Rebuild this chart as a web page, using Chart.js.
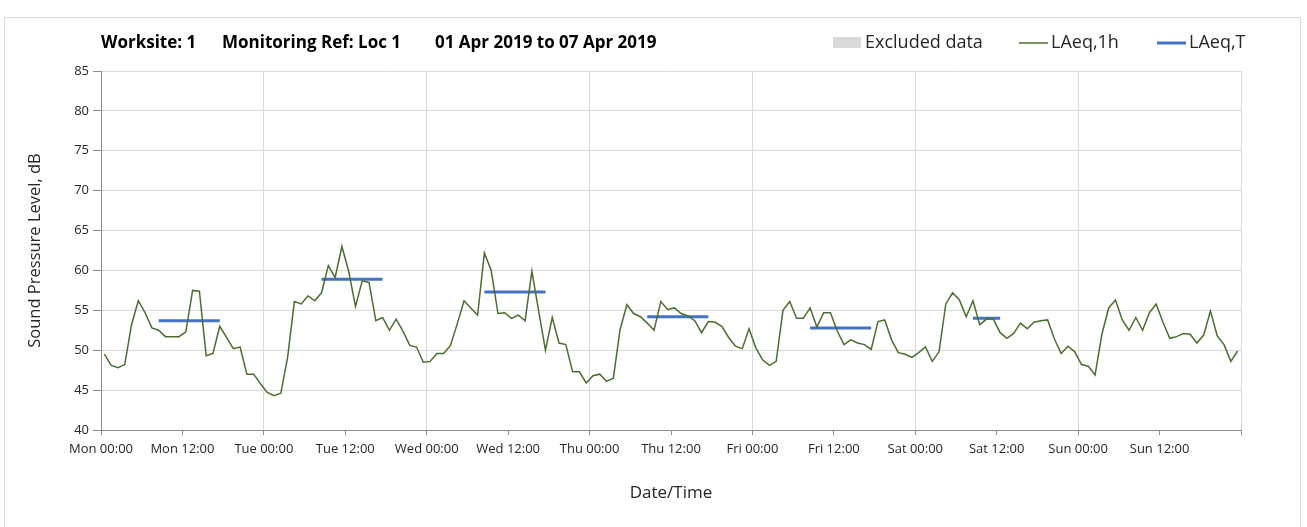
<!DOCTYPE html>
<html>
<head>
<meta charset="utf-8">
<title>LAeq monitoring</title>
<script src="https://cdn.jsdelivr.net/npm/chart.js@4/dist/chart.umd.min.js"></script>
<style>
  html, body { margin: 0; padding: 0; background: #fff; }
  #wrap { position: relative; width: 1307px; height: 527px; overflow: hidden; }
  #frame { position: absolute; left: 4px; top: 17px; width: 1297px; height: 530px; border: 1px solid #d9d9d9; box-sizing: border-box; }
  #chart { position: absolute; left: 0; top: 0; }
</style>
</head>
<body>
<div id="wrap">
  <div id="frame"></div>
  <canvas id="chart" width="1307" height="527"></canvas>
</div>
<script>
const hourlyColour = "#4b6e2e";
const periodColour = "#4472c4";
const excludedColour = "#d9d9d9";
const gridColour = "#d9d9d9";
const axisColour = "#8c8c8c";
const textColour = "#262626";
const fontFamily = "'Open Sans', 'DejaVu Sans', sans-serif";

const dayNames = ["Mon", "Tue", "Wed", "Thu", "Fri", "Sat", "Sun"];
const yTicks = [40, 45, 50, 55, 60, 65, 70, 75, 80, 85];

// LAeq,1h, one value per hour from Mon 00:00 to Sun 23:00
const hourlyLevels = [
  49.5, 48.1, 47.8, 48.2, 53.2, 56.2, 54.7, 52.8, 52.5, 51.7, 51.7, 51.7,
  52.3, 57.5, 57.4, 49.3, 49.6, 53.0, 51.6, 50.2, 50.4, 47.0, 47.0, 45.8,
  44.7, 44.3, 44.6, 49.1, 56.1, 55.8, 56.8, 56.2, 57.2, 60.6, 59.1, 63.0,
  59.9, 55.5, 58.7, 58.5, 53.7, 54.1, 52.5, 53.9, 52.4, 50.6, 50.4, 48.5,
  48.6, 49.6, 49.6, 50.6, 53.3, 56.2, 55.3, 54.4, 62.2, 60.0, 54.6, 54.7,
  54.0, 54.4, 53.7, 59.9, 54.9, 50.0, 54.1, 50.9, 50.7, 47.3, 47.3, 45.9,
  46.8, 47.0, 46.1, 46.5, 52.6, 55.7, 54.6, 54.2, 53.4, 52.5, 56.1, 55.1,
  55.3, 54.6, 54.3, 53.7, 52.2, 53.6, 53.5, 53.0, 51.6, 50.5, 50.2, 52.7,
  50.3, 48.8, 48.1, 48.6, 55.0, 56.1, 54.0, 54.0, 55.3, 52.9, 54.7, 54.7,
  52.4, 50.7, 51.3, 50.9, 50.7, 50.1, 53.6, 53.8, 51.3, 49.7, 49.5, 49.1,
  49.7, 50.4, 48.6, 49.8, 55.8, 57.2, 56.3, 54.2, 56.2, 53.2, 53.9, 53.9,
  52.2, 51.5, 52.1, 53.4, 52.7, 53.5, 53.7, 53.8, 51.4, 49.6, 50.5, 49.8,
  48.2, 48.0, 46.9, 52.0, 55.3, 56.3, 53.8, 52.5, 54.1, 52.5, 54.7, 55.8,
  53.5, 51.5, 51.7, 52.1, 52.0, 50.9, 51.9, 54.9, 51.8, 50.7, 48.6, 49.9
];

// LAeq,T per monitoring period (day index, first hour, last hour, level)
const periodDays = [0, 1, 2, 3, 4, 5];
const periodFirstHours = [8, 8, 8, 8, 8, 8];
const periodLastHours = [17, 17, 17, 17, 17, 12];
const periodLevels = [53.7, 58.9, 57.3, 54.2, 52.8, 54.0];

const hourlyPoints = hourlyLevels.map((level, hour) => ({ x: hour + 0.5, y: level }));

const periodPoints = [];
periodDays.forEach((day, i) => {
  periodPoints.push({ x: day * 24 + periodFirstHours[i] + 0.5, y: periodLevels[i] });
  periodPoints.push({ x: day * 24 + periodLastHours[i] + 0.5, y: periodLevels[i] });
  periodPoints.push({ x: day * 24 + periodLastHours[i] + 1, y: null });
});

const headerText = [
  { text: "Worksite: 1", x: 101 },
  { text: "Monitoring Ref: Loc 1", x: 222 },
  { text: "01 Apr 2019 to 07 Apr 2019", x: 435 },
];

const legendItems = [
  { text: "Excluded data", swatch: "box", colour: excludedColour, x: 833 },
  { text: "LAeq,1h", swatch: "line", colour: hourlyColour, width: 1.5, x: 1019 },
  { text: "LAeq,T", swatch: "line", colour: periodColour, width: 3, x: 1157 },
];

// header line and legend sit on the same row above the plot
const headerPlugin = {
  id: "header",
  afterDraw: (chart) => {
    const ctx = chart.ctx;
    const rowY = 43;
    ctx.save();
    ctx.textBaseline = "middle";
    ctx.fillStyle = "#000";
    ctx.font = "bold 17px " + fontFamily;
    headerText.forEach((part) => ctx.fillText(part.text, part.x, rowY));

    ctx.font = "18px " + fontFamily;
    legendItems.forEach((item) => {
      if (item.swatch === "box") {
        ctx.fillStyle = item.colour;
        ctx.fillRect(item.x, rowY - 6, 28, 11);
      } else {
        ctx.strokeStyle = item.colour;
        ctx.lineWidth = item.width;
        ctx.beginPath();
        ctx.moveTo(item.x, rowY);
        ctx.lineTo(item.x + 29, rowY);
        ctx.stroke();
      }
      ctx.fillStyle = textColour;
      ctx.fillText(item.text, item.x + 32, rowY);
    });
    ctx.restore();
  },
};

const xLabel = (value) => {
  if (value >= 168) return "";
  const day = dayNames[Math.floor(value / 24)];
  return day + (value % 24 === 0 ? " 00:00" : " 12:00");
};

new Chart(document.getElementById("chart"), {
  type: "line",
  data: {
    datasets: [
      {
        label: "LAeq,1h",
        data: hourlyPoints,
        borderColor: hourlyColour,
        backgroundColor: hourlyColour,
        borderWidth: 1.5,
        pointRadius: 0,
        tension: 0,
      },
      {
        label: "LAeq,T",
        data: periodPoints,
        borderColor: periodColour,
        backgroundColor: periodColour,
        borderWidth: 3,
        pointRadius: 0,
        spanGaps: false,
      },
      {
        label: "Excluded data",
        data: [],
        backgroundColor: excludedColour,
        borderColor: excludedColour,
      },
    ],
  },
  options: {
    responsive: false,
    animation: false,
    layout: { padding: { top: 71, right: 66, bottom: 0, left: 0 } },
    plugins: {
      tooltip: { enabled: false },
      legend: { display: false },
    },
    scales: {
      x: {
        type: "linear",
        min: 0,
        max: 168,
        afterFit: (scale) => { scale.height = 97; },
        ticks: {
          stepSize: 12,
          autoSkip: false,
          maxRotation: 0,
          padding: 6,
          color: textColour,
          font: { family: fontFamily, size: 13 },
          callback: xLabel,
        },
        grid: {
          color: (c) => (c.tick && c.tick.value % 24 === 0 ? gridColour : "rgba(0,0,0,0)"),
          tickColor: axisColour,
          tickLength: 5,
        },
        border: { color: axisColour },
        title: {
          display: true,
          text: "Date/Time",
          color: textColour,
          font: { family: fontFamily, size: 17 },
          padding: { top: 0, bottom: 24 },
        },
      },
      y: {
        min: 40,
        max: 85,
        afterFit: (scale) => { scale.width = 101; },
        afterBuildTicks: (scale) => { scale.ticks = yTicks.map((v) => ({ value: v })); },
        ticks: {
          padding: 4,
          color: textColour,
          font: { family: fontFamily, size: 13 },
        },
        grid: { color: gridColour, tickColor: axisColour, tickLength: 8 },
        border: { color: axisColour },
        title: {
          display: true,
          text: "Sound Pressure Level, dB",
          color: textColour,
          font: { family: fontFamily, size: 16.5 },
          padding: { top: 25, bottom: 0 },
        },
      },
    },
  },
  plugins: [headerPlugin],
});
</script>
</body>
</html>
